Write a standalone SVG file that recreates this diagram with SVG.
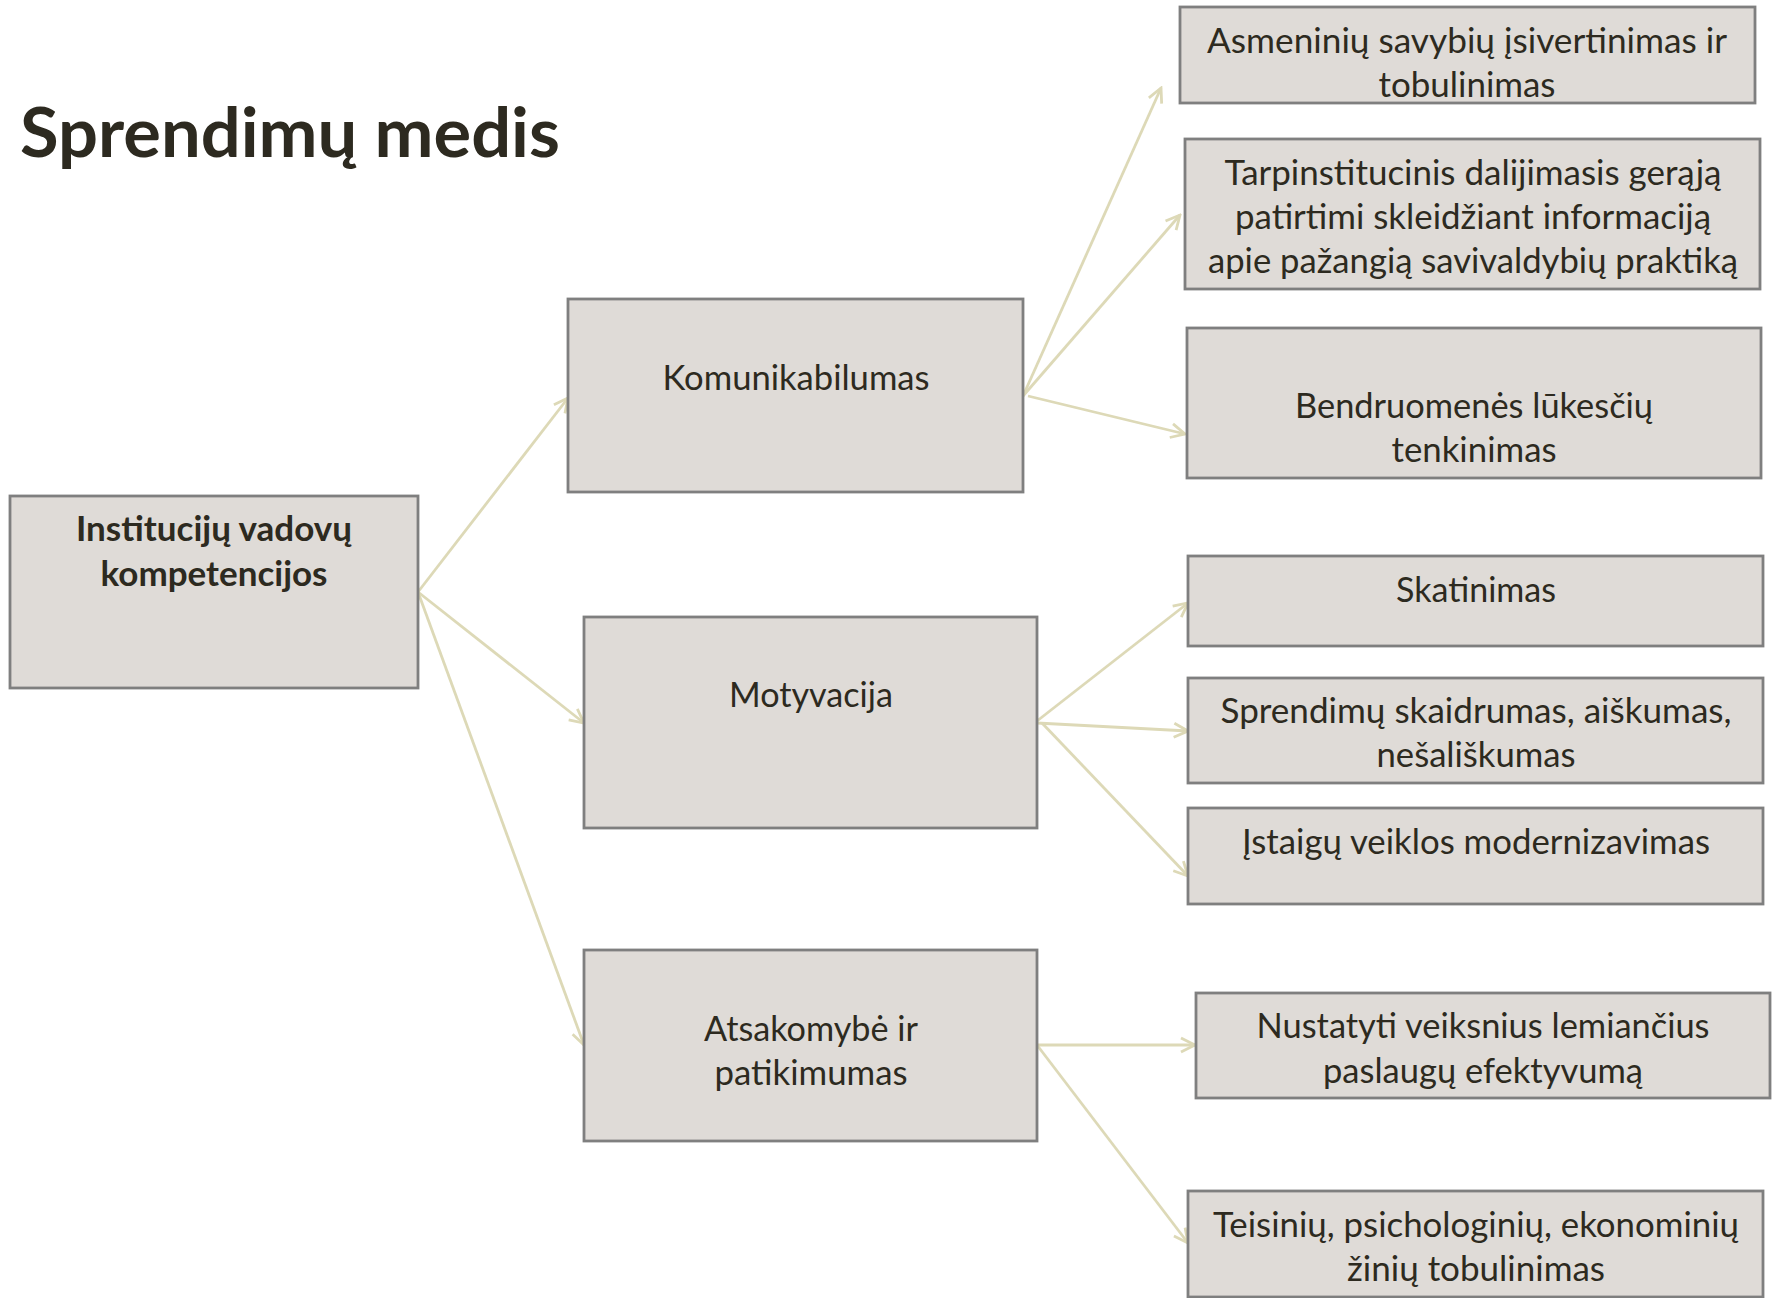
<svg xmlns="http://www.w3.org/2000/svg" width="1772" height="1298" viewBox="0 0 1772 1298">
<defs>
<style>
.box{fill:#dfdbd7;stroke:#7f7f7f;stroke-width:2.8}
.t{font-family:Lato,"Open Sans","Liberation Sans",sans-serif;font-size:35px;fill:#2d2a20;text-anchor:middle}
.b{font-weight:bold}
.title{font-family:Lato,"Open Sans","Liberation Sans",sans-serif;font-size:68px;font-weight:bold;fill:#2d2a20}
.c{stroke:#ddd9b7;stroke-width:2.8;fill:none;marker-end:url(#ah)}
</style>
<marker id="ah" markerUnits="userSpaceOnUse" viewBox="0 0 18 18" markerWidth="18" markerHeight="18" refX="16" refY="9" orient="auto">
<path d="M2,2 L16,9 L2,16" fill="none" stroke="#ddd9b7" stroke-width="2.8"/>
</marker>
</defs>
<rect width="1772" height="1298" fill="#ffffff"/>
<text class="title" x="20" y="157" textLength="540" lengthAdjust="spacingAndGlyphs">Sprendimų medis</text>

<g id="connectors">
<line class="c" x1="418" y1="592" x2="568" y2="398"/>
<line class="c" x1="418" y1="592" x2="584" y2="723"/>
<line class="c" x1="418" y1="592" x2="584" y2="1045"/>
<line class="c" x1="1023" y1="396" x2="1161" y2="88"/>
<line class="c" x1="1023" y1="396" x2="1180" y2="215"/>
<line class="c" x1="1028" y1="396" x2="1185" y2="434"/>
<line class="c" x1="1037" y1="721" x2="1188" y2="603"/>
<line class="c" x1="1037" y1="723" x2="1188" y2="731"/>
<line class="c" x1="1042" y1="723" x2="1188" y2="876"/>
<line class="c" x1="1037" y1="1045" x2="1195" y2="1045"/>
<line class="c" x1="1037" y1="1045" x2="1188" y2="1243"/>
</g>

<g id="root">
<rect class="box" x="10" y="496" width="408" height="192"/>
<text class="t b" x="214" y="541" textLength="276" lengthAdjust="spacingAndGlyphs">Institucijų vadovų</text>
<text class="t b" x="214" y="586" textLength="227" lengthAdjust="spacingAndGlyphs">kompetencijos</text>
</g>

<g id="komunikabilumas">
<rect class="box" x="568" y="299" width="455" height="193"/>
<text class="t" x="796" y="390" textLength="267" lengthAdjust="spacingAndGlyphs">Komunikabilumas</text>
</g>

<g id="motyvacija">
<rect class="box" x="584" y="617" width="453" height="211"/>
<text class="t" x="811" y="707" textLength="164" lengthAdjust="spacingAndGlyphs">Motyvacija</text>
</g>

<g id="atsakomybe">
<rect class="box" x="584" y="950" width="453" height="191"/>
<text class="t" x="811" y="1041" textLength="214" lengthAdjust="spacingAndGlyphs">Atsakomybė ir</text>
<text class="t" x="811" y="1085" textLength="193" lengthAdjust="spacingAndGlyphs">patikimumas</text>
</g>

<g id="asmeniniu">
<rect class="box" x="1180" y="7" width="575" height="96"/>
<text class="t" x="1467" y="53" textLength="520" lengthAdjust="spacingAndGlyphs">Asmeninių savybių  įsivertinimas ir</text>
<text class="t" x="1467" y="97" textLength="177" lengthAdjust="spacingAndGlyphs">tobulinimas</text>
</g>

<g id="tarpinstitucinis">
<rect class="box" x="1185" y="139" width="575" height="150"/>
<text class="t" x="1473" y="185" textLength="497" lengthAdjust="spacingAndGlyphs">Tarpinstitucinis dalijimasis gerąją</text>
<text class="t" x="1473" y="229" textLength="476" lengthAdjust="spacingAndGlyphs">patirtimi skleidžiant informaciją</text>
<text class="t" x="1473" y="273" textLength="530" lengthAdjust="spacingAndGlyphs">apie pažangią savivaldybių praktiką</text>
</g>

<g id="bendruomenes">
<rect class="box" x="1187" y="328" width="574" height="150"/>
<text class="t" x="1474" y="418" textLength="358" lengthAdjust="spacingAndGlyphs">Bendruomenės lūkesčių</text>
<text class="t" x="1474" y="462" textLength="165" lengthAdjust="spacingAndGlyphs">tenkinimas</text>
</g>

<g id="skatinimas">
<rect class="box" x="1188" y="556" width="575" height="90"/>
<text class="t" x="1476" y="602" textLength="160" lengthAdjust="spacingAndGlyphs">Skatinimas</text>
</g>

<g id="sprendimu">
<rect class="box" x="1188" y="678" width="575" height="105"/>
<text class="t" x="1476" y="723" textLength="511" lengthAdjust="spacingAndGlyphs">Sprendimų skaidrumas, aiškumas,</text>
<text class="t" x="1476" y="767" textLength="199" lengthAdjust="spacingAndGlyphs">nešališkumas</text>
</g>

<g id="istaigu">
<rect class="box" x="1188" y="808" width="575" height="96"/>
<text class="t" x="1476" y="854" textLength="468" lengthAdjust="spacingAndGlyphs">Įstaigų veiklos modernizavimas</text>
</g>

<g id="nustatyti">
<rect class="box" x="1196" y="993" width="574" height="105"/>
<text class="t" x="1483" y="1038" textLength="453" lengthAdjust="spacingAndGlyphs">Nustatyti veiksnius lemiančius</text>
<text class="t" x="1483" y="1083" textLength="320" lengthAdjust="spacingAndGlyphs">paslaugų efektyvumą</text>
</g>

<g id="teisiniu">
<rect class="box" x="1188" y="1191" width="575" height="106"/>
<text class="t" x="1476" y="1237" textLength="526" lengthAdjust="spacingAndGlyphs">Teisinių, psichologinių, ekonominių</text>
<text class="t" x="1476" y="1281" textLength="258" lengthAdjust="spacingAndGlyphs">žinių tobulinimas</text>
</g>
</svg>
